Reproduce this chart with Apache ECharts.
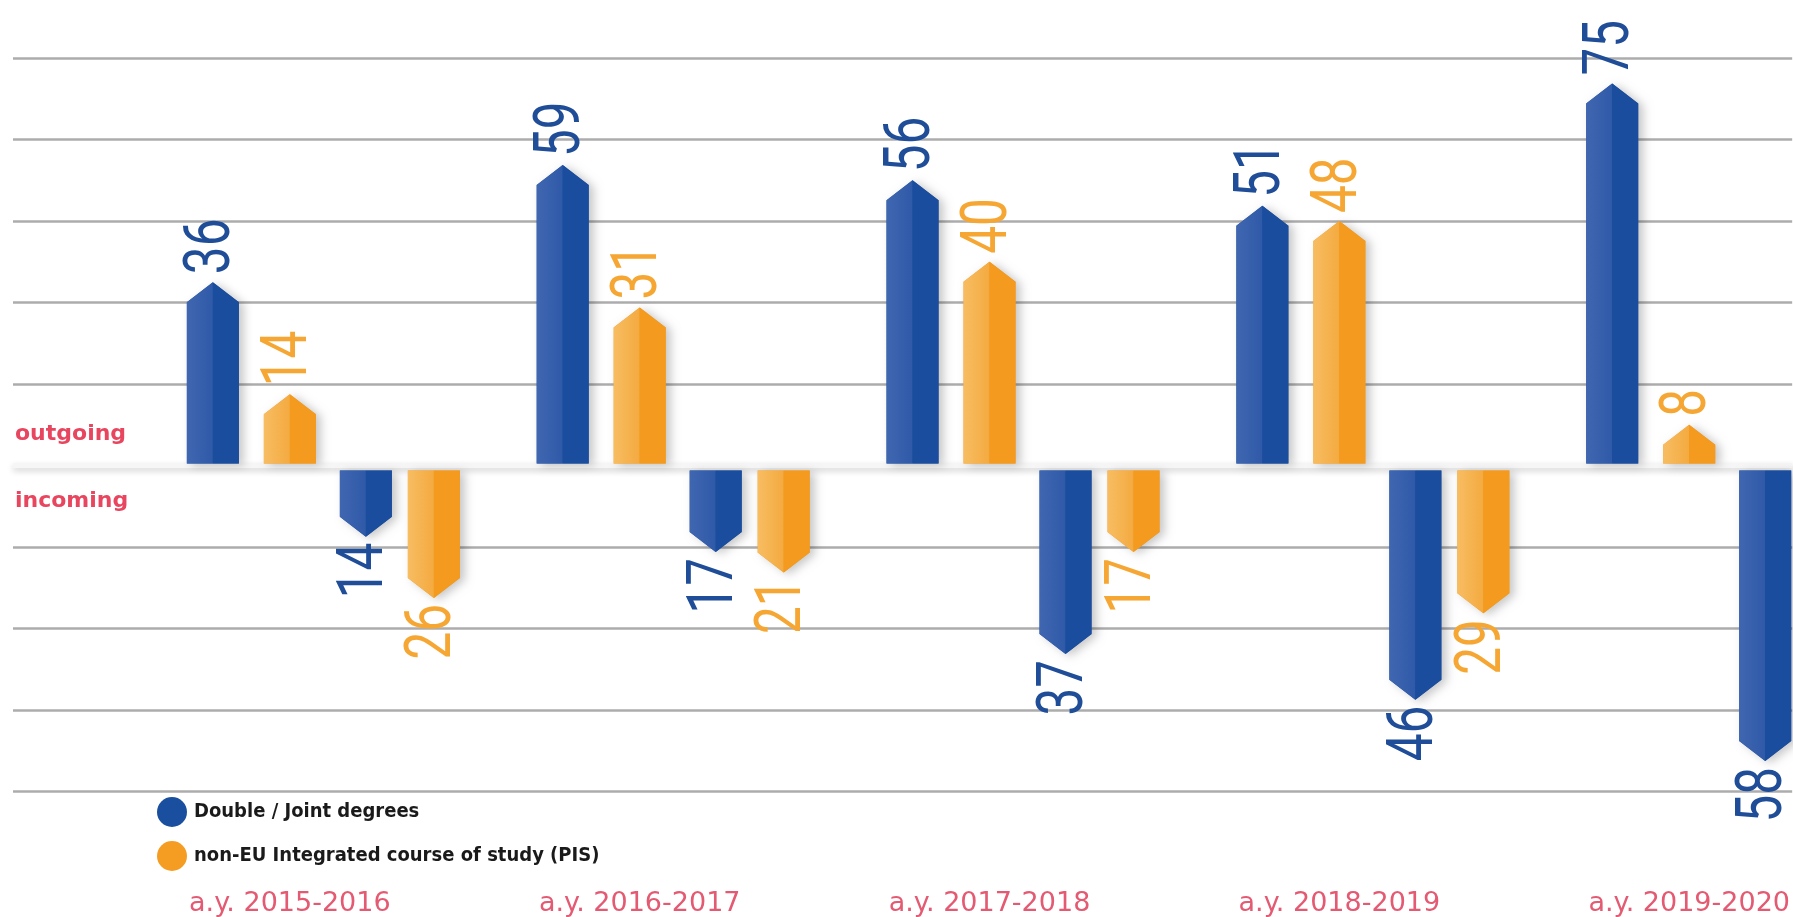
<!DOCTYPE html>
<html>
<head>
<meta charset="utf-8">
<script src="https://cdn.jsdelivr.net/npm/echarts@6/dist/echarts.min.js"></script>
<style>
  html, body { margin: 0; padding: 0; background: #ffffff; }
  #chart { width: 1793px; height: 917px; }
</style>
</head>
<body>
<div id="chart"></div>
<script>
// ---- data ----
const categories = ['a.y. 2015-2016', 'a.y. 2016-2017', 'a.y. 2017-2018', 'a.y. 2018-2019', 'a.y. 2019-2020'];
const doubleOutgoing = [36, 59, 56, 51, 75];
const pisOutgoing = [14, 31, 40, 48, 8];
const doubleIncoming = [14, 17, 37, 46, 58];
const pisIncoming = [26, 21, 17, 29, null];
const seriesNames = ['Double / Joint degrees', 'non-EU Integrated course of study (PIS)'];

// ---- styling ----
const NUM_FONT = "Roboto, 'DejaVu Sans Condensed', sans-serif";
const LEG_FONT = "'Liberation Sans Narrow', 'DejaVu Sans Condensed', 'Roboto Condensed', sans-serif";
const BLUE = { light0: '#4066b0', light1: '#2f5aa8', dark: '#1b4d9e', text: '#1f4d98', legend: '#1a4f9f' };
const ORANGE = { light0: '#f7bd62', light1: '#f4aa40', dark: '#f39a1f', text: '#f6a733', legend: '#f59d23' };
const BAR_W = 52, TIP_H = 20;

function makeRender(offset, pal, outgoing) {
  return function (params, api) {
    const raw = api.value(1);
    if (raw == null || isNaN(raw)) return;
    const base = api.coord([api.value(0), 0]);
    const end = api.coord([api.value(0), raw]);
    const cx = base[0] + offset;
    const dir = outgoing ? -1 : 1;
    const y0 = outgoing ? base[1] - 2 : base[1] + 5;
    const yTip = end[1];
    const ySh = yTip - dir * TIP_H;
    const l = cx - BAR_W / 2, r = cx + BAR_W / 2;
    const grad = new echarts.graphic.LinearGradient(0, 0, 1, 0, [
      { offset: 0, color: pal.light0 }, { offset: 1, color: pal.light1 }
    ]);
    const label = String(Math.abs(raw));
    return {
      type: 'group',
      children: [
        { type: 'polygon', shape: { points: [[l, y0], [r, y0], [r, ySh], [cx, yTip], [l, ySh]] },
          style: { fill: pal.dark, shadowBlur: 10, shadowColor: 'rgba(0,0,0,0.22)', shadowOffsetX: 5, shadowOffsetY: 2 } },
        { type: 'polygon', shape: { points: [[l, y0], [cx, y0], [cx, yTip], [l, ySh]] },
          style: { fill: grad } },
        { type: 'polygon', shape: { points: [[cx, y0], [r, y0], [r, ySh], [cx, yTip]] },
          style: { fill: pal.dark } },
        { type: 'text', x: cx, y: outgoing ? yTip - 8 : yTip + 6, rotation: Math.PI / 2,
          scaleX: 0.76, scaleY: 1,
          style: { text: label, fill: pal.text, fontSize: 65, fontWeight: 400, fontFamily: NUM_FONT,
                   align: outgoing ? 'left' : 'right', verticalAlign: 'middle' } }
      ]
    };
  };
}

function makeSeries(name, values, sign, offset, pal, outgoing) {
  return {
    type: 'custom',
    name: name,
    itemStyle: { color: pal.legend },
    encode: { x: 0, y: 1 },
    data: values.map((v, i) => [i, v == null ? null : sign * v]),
    renderItem: makeRender(offset, pal, outgoing),
    z: 5
  };
}

const series = [
  makeSeries(seriesNames[0], doubleOutgoing, 1, -77, BLUE, true),
  makeSeries(seriesNames[1], pisOutgoing, 1, 0, ORANGE, true),
  makeSeries(seriesNames[0], doubleIncoming, -1, 76, BLUE, false),
  makeSeries(seriesNames[1], pisIncoming, -1, 144, ORANGE, false)
];
// zero band
series[0].markLine = {
  silent: true, symbol: 'none', z: 1,
  label: { show: false },
  lineStyle: { color: '#f6f6f6', width: 5, type: 'solid', shadowColor: 'rgba(0,0,0,0.18)', shadowBlur: 6, shadowOffsetY: 3 },
  data: [{ yAxis: 0 }]
};

const gridColors = ['#acacac', '#acacac', '#acacac', '#acacac', 'rgba(0,0,0,0)', '#acacac', '#acacac', '#acacac', '#acacac', '#acacac'];

const chart = echarts.init(document.getElementById('chart'), null, { renderer: 'canvas' });
chart.setOption({
  animation: false,
  backgroundColor: '#ffffff',
  grid: { left: 13, right: 0, top: 58, bottom: 125, containLabel: false },
  xAxis: {
    type: 'value',
    min: -0.7914, max: 4.2943,
    axisLine: { show: false }, axisTick: { show: false }, splitLine: { show: false },
    axisLabel: {
      customValues: [0, 1, 2, 3, 4],
      formatter: function (v) { return categories[Math.round(v)]; },
      color: '#e45a72', fontSize: 27, fontFamily: "'DejaVu Sans', sans-serif",
      margin: 112, verticalAlign: 'middle'
    }
  },
  yAxis: {
    type: 'value', min: -64, max: 80, interval: 16,
    axisLine: { show: false }, axisTick: { show: false }, axisLabel: { show: false },
    splitLine: { show: true, lineStyle: { color: gridColors, width: 2.5 } }
  },
  legend: {
    orient: 'vertical', left: 152, top: 792,
    data: seriesNames,
    icon: 'circle', itemWidth: 30, itemHeight: 30, itemGap: 14,
    selectedMode: false,
    textStyle: { color: '#1a1a1a', fontSize: 20, fontWeight: 'bold', fontFamily: LEG_FONT, padding: [0, 0, 0, 2] }
  },
  graphic: [
    { type: 'text', x: 15, y: 434, style: { text: 'outgoing', fill: '#e8455e', font: "bold 22px 'DejaVu Sans', sans-serif", verticalAlign: 'middle' } },
    { type: 'text', x: 15, y: 501, style: { text: 'incoming', fill: '#e8455e', font: "bold 22px 'DejaVu Sans', sans-serif", verticalAlign: 'middle' } }
  ],
  series: series
});
</script>
</body>
</html>
